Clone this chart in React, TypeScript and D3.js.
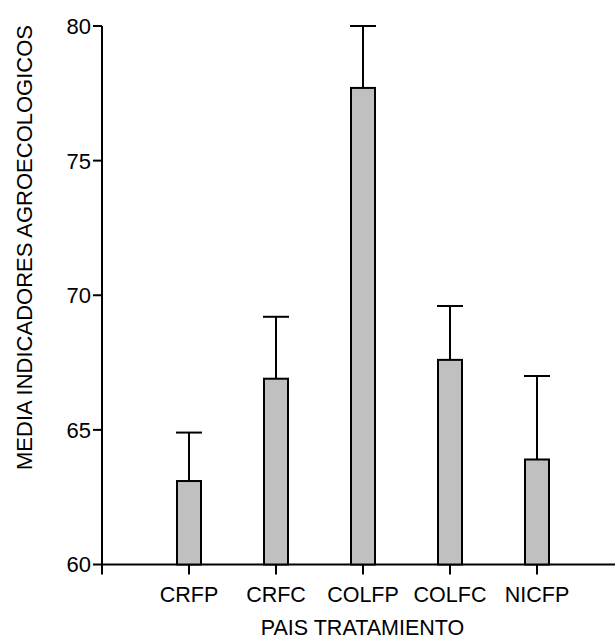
import React, { useRef, useEffect } from "react";
import * as d3 from "d3";

const categories = ["CRFP", "CRFC", "COLFP", "COLFC", "NICFP"];
const means = [63.1, 66.9, 77.7, 67.6, 63.9];
const errorTops = [64.9, 69.2, 80.0, 69.6, 67.0];
const yTicks = [60, 65, 70, 75, 80];

const App = () => {
    const svgRef = useRef<HTMLDivElement>(null);

    useEffect(() => {
        const width = 615;
        const height = 641;
        const font = "'Liberation Sans', Arial, sans-serif";

        if (!svgRef.current) return;
        svgRef.current.innerHTML = "";

        const svg = d3
            .select(svgRef.current)
            .append("svg")
            .attr("width", width)
            .attr("height", height)
            .style("position", "absolute")
            .style("left", "0px")
            .style("top", "0px")
            .style("background", "#fff");

        // category positions 1..5, axis starts at 0
        const x = d3.scaleLinear().domain([0, 6]).range([102, 624]);
        const y = d3.scaleLinear().domain([60, 80]).range([564.5, 26]);
        const barWidth = 24;
        const capWidth = 26;

        // y axis
        const yAxis = svg.append("g").attr("transform", `translate(${x(0)},0)`);
        yAxis
            .append("line")
            .attr("y1", y(60))
            .attr("y2", y(80))
            .attr("stroke", "#000")
            .attr("stroke-width", 2);
        yTicks.forEach((t) => {
            yAxis
                .append("line")
                .attr("x1", -9)
                .attr("x2", 0)
                .attr("y1", y(t))
                .attr("y2", y(t))
                .attr("stroke", "#000")
                .attr("stroke-width", 2);
            yAxis
                .append("text")
                .attr("x", -11)
                .attr("y", y(t))
                .attr("dy", "0.36em")
                .attr("text-anchor", "end")
                .style("font-family", font)
                .style("font-size", "22px")
                .text(t);
        });

        // x axis
        const xAxis = svg.append("g").attr("transform", `translate(0,${y(60)})`);
        xAxis
            .append("line")
            .attr("x1", x(0))
            .attr("x2", x(6))
            .attr("stroke", "#000")
            .attr("stroke-width", 2);
        d3.range(0, 6).forEach((i) => {
            xAxis
                .append("line")
                .attr("x1", x(i))
                .attr("x2", x(i))
                .attr("y1", 0)
                .attr("y2", 10)
                .attr("stroke", "#000")
                .attr("stroke-width", 2);
        });
        categories.forEach((c, i) => {
            xAxis
                .append("text")
                .attr("x", x(i + 1))
                .attr("y", 37)
                .attr("text-anchor", "middle")
                .style("font-family", font)
                .style("font-size", "21.5px")
                .text(c);
        });

        // error bars (upper only) drawn first so bar outline sits on top
        const errs = svg.append("g");
        errorTops.forEach((e, i) => {
            const cx = x(i + 1);
            errs.append("line")
                .attr("x1", cx).attr("x2", cx)
                .attr("y1", y(means[i])).attr("y2", y(e))
                .attr("stroke", "#000").attr("stroke-width", 2);
            errs.append("line")
                .attr("x1", cx - capWidth / 2).attr("x2", cx + capWidth / 2)
                .attr("y1", y(e)).attr("y2", y(e))
                .attr("stroke", "#000").attr("stroke-width", 2);
        });

        // bars
        svg.append("g")
            .selectAll("rect")
            .data(means)
            .enter()
            .append("rect")
            .attr("x", (d, i) => x(i + 1) - barWidth / 2)
            .attr("y", (d) => y(d))
            .attr("width", barWidth)
            .attr("height", (d) => y(60) - y(d))
            .attr("fill", "#c0c0c0")
            .attr("stroke", "#000")
            .attr("stroke-width", 2);

        // axis titles
        svg.append("text")
            .attr("transform", `translate(32,${y(80) - 1}) rotate(-90)`)
            .attr("text-anchor", "end")
            .style("font-family", font)
            .style("font-size", "22px")
            .text("MEDIA INDICADORES AGROECOLOGICOS");

        svg.append("text")
            .attr("x", 362.5)
            .attr("y", 635)
            .attr("text-anchor", "middle")
            .style("font-family", font)
            .style("font-size", "21.5px")
            .text("PAIS TRATAMIENTO");
    }, []);

    return <div ref={svgRef}></div>;
};

export default App;
